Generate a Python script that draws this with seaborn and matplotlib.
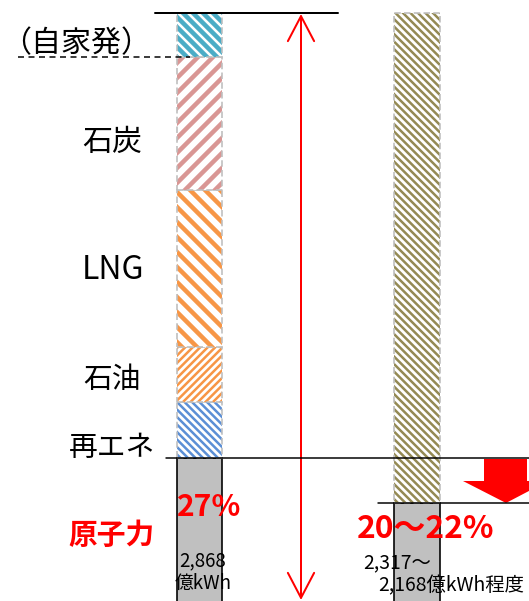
import matplotlib
matplotlib.use("Agg")
import matplotlib.pyplot as plt
import seaborn as sns
from matplotlib.patches import Polygon, FancyArrowPatch

# Data (shares of generation, %)
cats = ["現在", "将来"]
left_names = ["原子力", "再エネ", "石油", "LNG", "石炭", "（自家発）"]
left_vals = [27.0, 9.2, 9.0, 25.8, 21.8, 7.2]
left_colors = ["#c0c0c0", "#5b8fd6", "#f79646", "#f79646", "#d99694", "#4bacc6"]
left_hatches = [None, "\\\\\\\\", "////", "\\\\", "//", "\\\\\\"]
right_names = ["原子力", "その他"]
right_vals = [19.6, 80.4]
right_colors = ["#c0c0c0", "#948a54"]
right_hatches = [None, "\\\\\\\\"]

left_pct = "27%"
left_kwh = "2,868\n億kWh"
right_pct = "20〜22%"
right_kwh1 = "2,317〜"
right_kwh2 = "2,168億kWh程度"

DPI = 90
W, H = 529, 601
sns.set_style("white")
plt.rcParams["font.family"] = ["Noto Sans CJK JP", "DejaVu Sans"]

fig = plt.figure(figsize=(W / DPI, H / DPI), dpi=DPI)
ax = fig.add_axes([0, 0, 1, 1])


def stack(cat, names, vals, colors, hatches):
    bottom = 0.0
    for name, v, c, h in zip(names, vals, colors, hatches):
        if h is None:
            sns.barplot(x=[cat], y=[v], order=cats, bottom=bottom, ax=ax,
                        width=0.207, errorbar=None, saturation=1,
                        facecolor=c, edgecolor="black", linewidth=1.3)
        else:
            hlw = 2.0 if len(h) >= 4 else 3.6
            before = len(ax.patches)
            with plt.rc_context({"hatch.linewidth": hlw}):
                sns.barplot(x=[cat], y=[v], order=cats, bottom=bottom, ax=ax,
                            width=0.207, errorbar=None, saturation=1,
                            facecolor="white", edgecolor=c, linewidth=0,
                            hatch=h)
            for p in ax.patches[before:]:
                if hasattr(p, "set_hatch_linewidth"):
                    p.set_hatch_linewidth(hlw)
            sns.barplot(x=[cat], y=[v], order=cats, bottom=bottom, ax=ax,
                        width=0.207, errorbar=None, saturation=1,
                        facecolor="none", edgecolor="#bfbfbf",
                        linewidth=1.3, linestyle=(0, (4, 2)))
        bottom += v


stack(cats[0], left_names, left_vals, left_colors, left_hatches)
stack(cats[1], right_names, right_vals, right_colors, right_hatches)

# map data axes onto pixel layout
base_px, top_px = 622.6, 13.0
ppu = (base_px - top_px) / 100.0
ax.set_ylim((base_px - H) / ppu, base_px / ppu)
c0, c1 = 199.5, 417.0
ax.set_xlim(-c0 / (c1 - c0), 1 + (W - c1) / (c1 - c0))
ax.axis("off")

# overlay in pixel coordinates for annotations
ov = fig.add_axes([0, 0, 1, 1])
ov.set_xlim(0, W)
ov.set_ylim(H, 0)
ov.axis("off")
ov.patch.set_alpha(0)

ov.plot([155, 338], [13, 13], color="black", lw=1.6)
ov.plot([18, 190], [57, 57], color="black", lw=1.2, ls=(0, (4, 3)))
ov.plot([166, W], [458, 458], color="black", lw=1.2)
ov.plot([378, W], [503, 503], color="black", lw=1.2)

arr = FancyArrowPatch((301, 14), (301, 600),
                      arrowstyle="<->,head_length=20,head_width=10.5",
                      mutation_scale=1, color="red", lw=1.6,
                      shrinkA=0, shrinkB=0)
ov.add_patch(arr)

ov.add_patch(Polygon([(484, 459), (527, 459), (527, 481), (548, 481),
                      (506, 503), (463, 481), (484, 481)],
                     closed=True, color="red", lw=0))

label_pos = {"原子力": (112, 535), "再エネ": (112, 448), "石油": (112, 380),
             "LNG": (113, 270), "石炭": (112, 142), "（自家発）": (76, 44)}
for name in left_names:
    x, y = label_pos[name]
    if name == "原子力":
        ov.text(x, y, name, ha="center", va="center", fontsize=23,
                color="red", fontweight="bold")
    else:
        fs = {"LNG": 25.5, "（自家発）": 24, "石炭": 24}.get(name, 23)
        ov.text(x, y, name, ha="center", va="center", fontsize=fs,
                color="black")

ov.text(209, 507, left_pct, ha="center", va="center", fontsize=24,
        color="red", fontweight="bold")
ov.text(203, 572, left_kwh, ha="center", va="center", fontsize=15,
        color="black", linespacing=1.15)
ov.text(426, 529, right_pct, ha="center", va="center", fontsize=25.5,
        color="red", fontweight="bold")
ov.text(397, 563, right_kwh1, ha="center", va="center", fontsize=15.5,
        color="black")
ov.text(378, 586, right_kwh2, ha="left", va="center", fontsize=15.5,
        color="black")

fig.savefig("out.png", dpi=DPI)
